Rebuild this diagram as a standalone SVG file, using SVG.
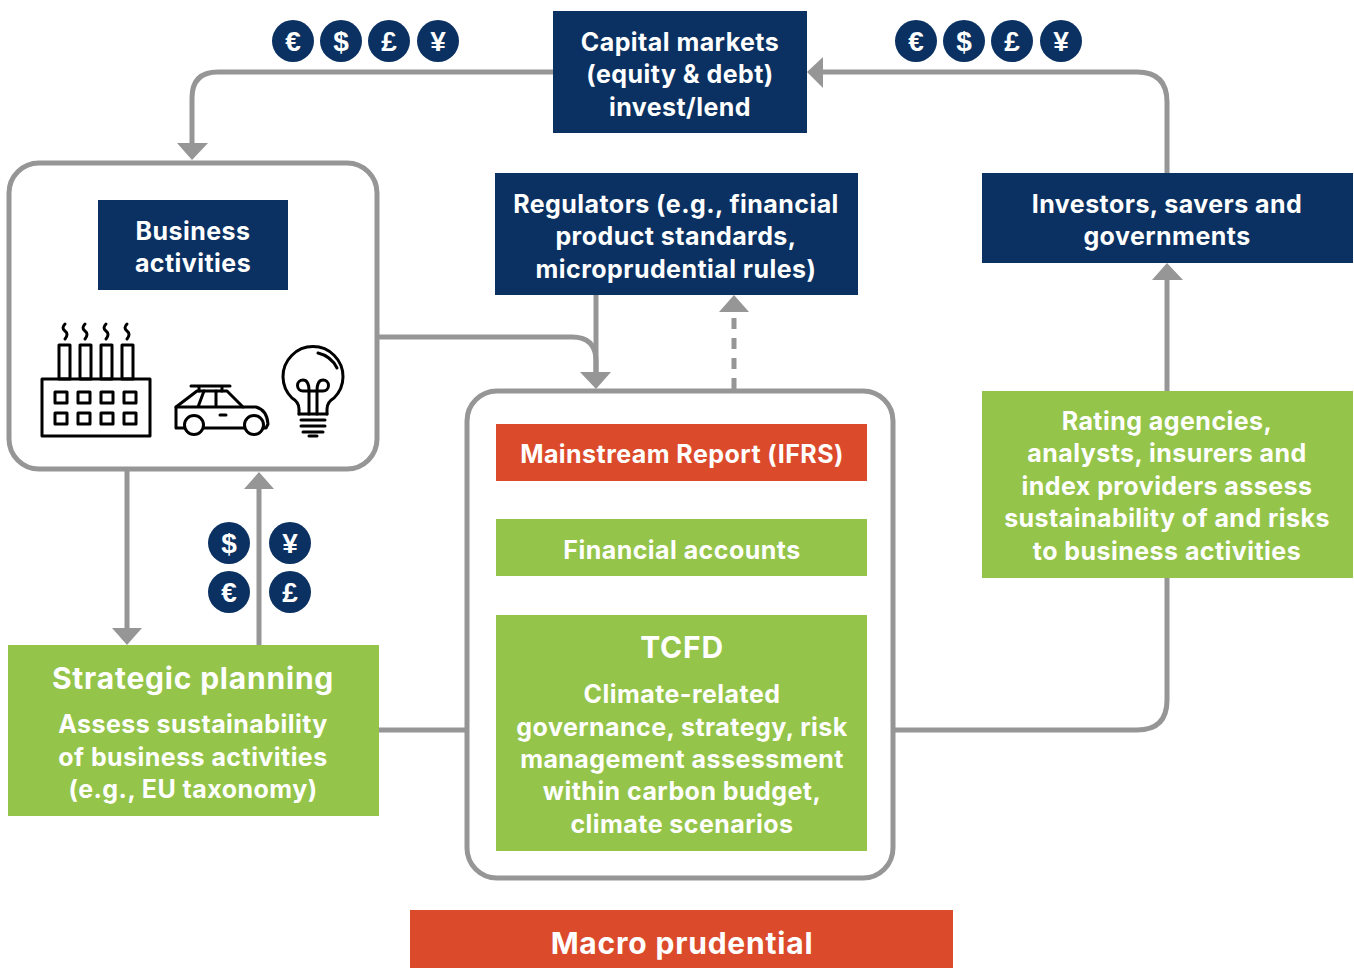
<svg xmlns="http://www.w3.org/2000/svg" width="1354" height="968" viewBox="0 0 1354 968">
<style>
.t{font-family:"Inter","Liberation Sans",sans-serif;font-weight:700;font-size:25px;letter-spacing:.45px;fill:#fff;text-anchor:middle}
.h{font-size:30px;letter-spacing:.8px}
.c{font-family:"Liberation Sans",sans-serif;font-weight:700;font-size:28px;fill:#fff;text-anchor:middle}
.navy{fill:#0a3161}.green{fill:#94c54a}.red{fill:#db4a2b}
.line{fill:none;stroke:#969696;stroke-width:5}
.head{fill:#969696}
.box{fill:#fff;stroke:#969696;stroke-width:5}
.ic{fill:none;stroke:#000;stroke-width:3;stroke-linejoin:round;stroke-linecap:round}
</style>
<defs>
<g id="coin-e"><circle r="21" class="navy"/><text class="c" y="10">€</text></g>
<g id="coin-d"><circle r="21" class="navy"/><text class="c" y="10">$</text></g>
<g id="coin-p"><circle r="21" class="navy"/><text class="c" y="10">£</text></g>
<g id="coin-y"><circle r="21" class="navy"/><text class="c" y="10">¥</text></g>
</defs>
<g id="connectors">
<path class="line" d="M553 72H218Q192 72 192 98V146"/>
<polygon class="head" points="177,143 208,143 192,160"/>
<path class="line" d="M1167 173V102Q1167 72 1137 72H822"/>
<polygon class="head" points="823,57 823,88 807,72"/>
<path class="line" d="M379 337H572Q596 337 596 361V375"/>
<path class="line" d="M596 295V375"/>
<polygon class="head" points="580,372 611,372 596,389"/>
<path class="line" d="M734 389V310" stroke-dasharray="11 9"/>
<polygon class="head" points="719,312 749,312 734,295"/>
<path class="line" d="M1167 391V278"/>
<polygon class="head" points="1152,280 1183,280 1167,263"/>
<path class="line" d="M127 471V630"/>
<polygon class="head" points="112,628 142,628 127,645"/>
<path class="line" d="M259 645V486"/>
<polygon class="head" points="244,489 274,489 259,472"/>
<path class="line" d="M379 730H466"/>
<path class="line" d="M894 730H1137Q1167 730 1167 700V578"/>
</g>
<g id="coins-top-left">
<use href="#coin-e" x="293" y="41"/><use href="#coin-d" x="341" y="41"/><use href="#coin-p" x="389" y="41"/><use href="#coin-y" x="438" y="41"/>
</g>
<g id="coins-top-right">
<use href="#coin-e" x="916" y="41"/><use href="#coin-d" x="964" y="41"/><use href="#coin-p" x="1012" y="41"/><use href="#coin-y" x="1061" y="41"/>
</g>
<g id="coins-mid">
<use href="#coin-d" x="229" y="543"/><use href="#coin-y" x="290" y="543"/><use href="#coin-e" x="229" y="592"/><use href="#coin-p" x="290" y="592"/>
</g>
<g id="capital-markets">
<rect class="navy" x="553" y="11" width="254" height="122"/>
<text class="t" x="680" y="51">Capital markets</text>
<text class="t" x="680" y="83">(equity &amp; debt)</text>
<text class="t" x="680" y="116">invest/lend</text>
</g>
<g id="business-container">
<rect class="box" x="9" y="163" width="368" height="306" rx="30"/>
</g>
<g id="business-activities">
<rect class="navy" x="98" y="200" width="190" height="90"/>
<text class="t" x="193" y="240">Business</text>
<text class="t" x="193" y="272">activities</text>
</g>
<g id="factory-icon">
<rect class="ic" x="42" y="379" width="108" height="57"/>
<rect class="ic" x="59" y="345" width="11" height="34"/><rect class="ic" x="80" y="345" width="11" height="34"/><rect class="ic" x="101" y="345" width="11" height="34"/><rect class="ic" x="122" y="345" width="11" height="34"/>
<path class="ic" d="M65 324q-4 4 0 7t0 8M85 324q-4 4 0 7t0 8M106 324q-4 4 0 7t0 8M127 324q-4 4 0 7t0 8"/>
<rect class="ic" x="55" y="392" width="12" height="11"/><rect class="ic" x="78" y="392" width="12" height="11"/><rect class="ic" x="101" y="392" width="12" height="11"/><rect class="ic" x="124" y="392" width="12" height="11"/>
<rect class="ic" x="55" y="413" width="12" height="11"/><rect class="ic" x="78" y="413" width="12" height="11"/><rect class="ic" x="101" y="413" width="12" height="11"/><rect class="ic" x="124" y="413" width="12" height="11"/>
</g>
<g id="car-icon">
<path class="ic" d="M184 428H176V407L197 391H227L243 407H256Q267 410 268 424L266 428H263M244 428H204"/>
<circle class="ic" cx="194" cy="425" r="9.500"/><circle class="ic" cx="254" cy="425" r="9.500"/>
<path class="ic" d="M176 407H243M191 386H230M199 386V391M222 386V391M204 391L198 407M216 391V407M220 415H226"/>
</g>
<g id="bulb-icon">
<path class="ic" d="M299 414V409Q299 402 292 398A30 30 0 1 1 334 398Q327 402 327 409V414"/>
<path class="ic" d="M309 414V391Q309 380 303 380A5.500 5.500 0 1 0 303 391H323A5.500 5.500 0 1 0 323 380Q317 380 317 391V414"/>
<path class="ic" d="M299 414H327M301 420H325M301 426H325M303 432H323M309 436H317"/>
<path class="ic" d="M318 353Q331 356 337 368"/>
</g>
<g id="regulators">
<rect class="navy" x="495" y="173" width="363" height="122"/>
<text class="t" x="676" y="213">Regulators (e.g., financial</text>
<text class="t" x="676" y="245">product standards,</text>
<text class="t" x="676" y="278">microprudential rules)</text>
</g>
<g id="investors">
<rect class="navy" x="982" y="173" width="371" height="90"/>
<text class="t" x="1167" y="213">Investors, savers and</text>
<text class="t" x="1167" y="245">governments</text>
</g>
<g id="report-container">
<rect class="box" x="467" y="391" width="426" height="487" rx="30"/>
</g>
<g id="mainstream-report">
<rect class="red" x="496" y="424" width="371" height="57"/>
<text class="t" x="682" y="463">Mainstream Report (IFRS)</text>
</g>
<g id="financial-accounts">
<rect class="green" x="496" y="519" width="371" height="57"/>
<text class="t" x="682" y="559">Financial accounts</text>
</g>
<g id="tcfd">
<rect class="green" x="496" y="615" width="371" height="236"/>
<text class="t h" x="682" y="658">TCFD</text>
<text class="t" x="682" y="703">Climate-related</text>
<text class="t" x="682" y="736">governance, strategy, risk</text>
<text class="t" x="682" y="768">management assessment</text>
<text class="t" x="682" y="800">within carbon budget,</text>
<text class="t" x="682" y="833">climate scenarios</text>
</g>
<g id="rating-agencies">
<rect class="green" x="982" y="391" width="371" height="187"/>
<text class="t" x="1167" y="430">Rating agencies,</text>
<text class="t" x="1167" y="462">analysts, insurers and</text>
<text class="t" x="1167" y="495">index providers assess</text>
<text class="t" x="1167" y="527">sustainability of and risks</text>
<text class="t" x="1167" y="560">to business activities</text>
</g>
<g id="strategic-planning">
<rect class="green" x="8" y="645" width="371" height="171"/>
<text class="t h" x="193" y="689">Strategic planning</text>
<text class="t" x="193" y="733">Assess sustainability</text>
<text class="t" x="193" y="766">of business activities</text>
<text class="t" x="193" y="798">(e.g., EU taxonomy)</text>
</g>
<g id="macro-prudential">
<rect class="red" x="410" y="910" width="543" height="58"/>
<text class="t h" x="682" y="954">Macro prudential</text>
</g>
</svg>
